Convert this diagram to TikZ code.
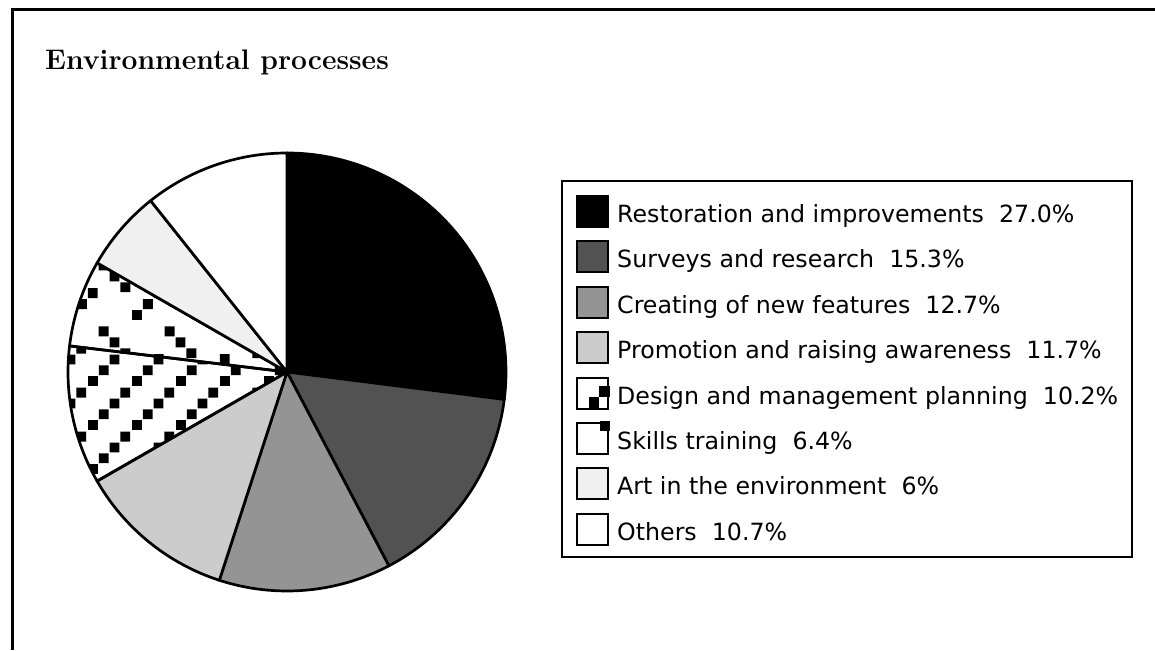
\documentclass[tikz,border=0pt]{standalone}
\usepackage{fontspec}
\newfontfamily\legendfont{DejaVu Sans}
\usetikzlibrary{patterns}

% staircase squares for "Design and management planning"
\pgfdeclarepatternformonly{designdots}{\pgfpointorigin}{\pgfpoint{44pt}{44pt}}{\pgfpoint{44pt}{44pt}}{%
  \pgfpathrectangle{\pgfpoint{0pt}{0pt}}{\pgfpoint{10pt}{10pt}}%
  \pgfpathrectangle{\pgfpoint{11pt}{11pt}}{\pgfpoint{10pt}{10pt}}%
  \pgfpathrectangle{\pgfpoint{22pt}{22pt}}{\pgfpoint{10pt}{10pt}}%
  \pgfpathrectangle{\pgfpoint{33pt}{33pt}}{\pgfpoint{10pt}{10pt}}%
  \pgfusepath{fill}}
% sparse squares for "Skills training"
\pgfdeclarepatternformonly{skillsdots}{\pgfpointorigin}{\pgfpoint{66pt}{66pt}}{\pgfpoint{66pt}{66pt}}{%
  \pgfpathrectangle{\pgfpoint{0pt}{0pt}}{\pgfpoint{10pt}{10pt}}%
  \pgfpathrectangle{\pgfpoint{11pt}{11pt}}{\pgfpoint{10pt}{10pt}}%
  \pgfpathrectangle{\pgfpoint{22pt}{22pt}}{\pgfpoint{10pt}{10pt}}%
  \pgfpathrectangle{\pgfpoint{33pt}{50pt}}{\pgfpoint{10pt}{10pt}}%
  \pgfpathrectangle{\pgfpoint{44pt}{39pt}}{\pgfpoint{10pt}{10pt}}%
  \pgfpathrectangle{\pgfpoint{55pt}{28pt}}{\pgfpoint{10pt}{10pt}}%
  \pgfusepath{fill}}

\begin{document}
\begin{tikzpicture}[x=1pt, y=1pt,
    % --- Styles ---
    slice/.style={
      draw,
      line width=2.7pt,
      line join=round
    },
    swatch/.style={
      draw,
      rectangle,
      line width=2pt,
      minimum size=31pt,
      inner sep=0pt
    },
    legendText/.style={
      anchor=base west,
      inner sep=0pt,
      font=\legendfont\fontsize{23.7}{28}\selectfont
    },
    frameLine/.style={
      line width=3pt
    }
]
\useasboundingbox (0,0) rectangle (1155,650);

%=====================
% Frame and title
%=====================
\draw[frameLine] (12,0) -- (12,640) -- (1155,640);
\node[anchor=base west, inner sep=0pt, font=\bfseries\fontsize{28.3}{34}\selectfont] (title) at (45,580) {Environmental processes};

%=====================
% Pie: 27.0, 15.3, 12.7, 11.7, 10.2, 6.4, 6, 10.7
%=====================
\coordinate (pieCenter) at (287,278);
\filldraw[slice, fill=black] (pieCenter) -- ++(90:219) arc[start angle=90, end angle=-7.2, radius=219] -- cycle;
\filldraw[slice, fill=black!68] (pieCenter) -- ++(-7.2:219) arc[start angle=-7.2, end angle=-62.28, radius=219] -- cycle;
\filldraw[slice, fill=black!42] (pieCenter) -- ++(-62.28:219) arc[start angle=-62.28, end angle=-108, radius=219] -- cycle;
\filldraw[slice, fill=black!20] (pieCenter) -- ++(-108:219) arc[start angle=-108, end angle=-150.12, radius=219] -- cycle;
\draw[slice, pattern=designdots] (pieCenter) -- ++(-150.12:219) arc[start angle=-150.12, end angle=-186.84, radius=219] -- cycle;
\draw[slice, pattern=skillsdots] (pieCenter) -- ++(-186.84:219) arc[start angle=-186.84, end angle=-209.88, radius=219] -- cycle;
\filldraw[slice, fill=black!6] (pieCenter) -- ++(-209.88:219) arc[start angle=-209.88, end angle=-231.48, radius=219] -- cycle;
\filldraw[slice, fill=white] (pieCenter) -- ++(-231.48:219) arc[start angle=-231.48, end angle=-270, radius=219] -- cycle;

%=====================
% Legend
%=====================
\node[draw, line width=2pt, minimum width=570pt, minimum height=376pt, inner sep=0pt] (legendBox) at (847,281) {};

\node[swatch, fill=black] (swRestoration) at (592.5,438.5) {};
\node[legendText] (txRestoration) at (617,427.5) {Restoration and improvements~~27.0\%};

\node[swatch, fill=black!68] (swSurveys) at (592.5,393.1) {};
\node[legendText] (txSurveys) at (617,382.1) {Surveys and research~~15.3\%};

\node[swatch, fill=black!42] (swCreating) at (592.5,347.7) {};
\node[legendText] (txCreating) at (617,336.7) {Creating of new features~~12.7\%};

\node[swatch, fill=black!20] (swPromotion) at (592.5,302.3) {};
\node[legendText] (txPromotion) at (617,291.3) {Promotion and raising awareness~~11.7\%};

\node[swatch, fill=white] (swDesign) at (592.5,256.9) {};
\fill (599,253) rectangle (609.5,264);
\fill (589,242) rectangle (599,253);
\node[legendText] (txDesign) at (617,245.9) {Design and management planning~~10.2\%};

\node[swatch, fill=white] (swSkills) at (592.5,211.5) {};
\fill (600,219) rectangle (609.5,228.5);
\node[legendText] (txSkills) at (617,200.5) {Skills training~~6.4\%};

\node[swatch, fill=black!6] (swArt) at (592.5,166.1) {};
\node[legendText] (txArt) at (617,155.1) {Art in the environment~~6\%};

\node[swatch, fill=white] (swOthers) at (592.5,120.7) {};
\node[legendText] (txOthers) at (617,109.7) {Others~~10.7\%};

\end{tikzpicture}
\end{document}
